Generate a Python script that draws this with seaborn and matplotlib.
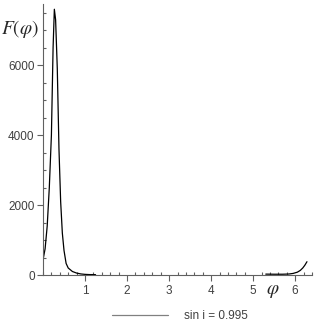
import matplotlib
matplotlib.use("Agg")
import matplotlib.pyplot as plt
import seaborn as sns
import pandas as pd
from matplotlib.ticker import MultipleLocator

# values (peak branch and end branch)
phi_left = [0.0, 0.05, 0.1, 0.15, 0.2, 0.24, 0.27, 0.3, 0.34, 0.38, 0.42,
            0.46, 0.5, 0.55, 0.6, 0.7, 0.8, 0.9, 1.0, 1.1, 1.25]
F_left = [430, 750, 1400, 2500, 4000, 6500, 7600, 7300, 5900, 3600, 2100,
          1200, 700, 330, 200, 100, 55, 30, 18, 12, 10]
phi_right = [5.3, 5.5, 5.7, 5.85, 5.95, 6.05, 6.12, 6.18, 6.23, 6.28]
F_right = [25, 22, 22, 28, 45, 80, 130, 200, 280, 380]
legend_label = "sin i = 0.995"

df = pd.DataFrame({
    "phi": phi_left + phi_right,
    "F": F_left + F_right,
    "seg": ["a"] * len(phi_left) + ["b"] * len(phi_right),
})

sns.set_style("white")
plt.rcParams["mathtext.fontset"] = "stix"
plt.rcParams["font.family"] = ["Liberation Sans", "DejaVu Sans"]

fig = plt.figure(figsize=(3.27, 3.27), dpi=100)
ax = fig.add_axes([43 / 327, 52 / 327, 269 / 327, 271 / 327])

sns.lineplot(data=df[df.seg == "a"], x="phi", y="F", color="black",
             linewidth=0.9, ax=ax, label=legend_label)
sns.lineplot(data=df[df.seg == "b"], x="phi", y="F", color="black",
             linewidth=0.9, ax=ax, legend=False)

ax.set_xlim(0, 6.4)
ax.set_ylim(0, 7750)
ax.set_xticks([1, 2, 3, 4, 5, 6])
ax.set_yticks([0, 2000, 4000, 6000])
ax.xaxis.set_minor_locator(MultipleLocator(0.2))
ax.yaxis.set_minor_locator(MultipleLocator(500))
ax.tick_params(which="major", direction="out", length=4, width=0.8,
               color="#606060", labelsize=8.5, labelcolor="#404040", pad=2)
ax.tick_params(which="minor", direction="in", length=2.5, width=0.8,
               color="#606060")
ax.tick_params(axis="x", which="major", pad=3)
ax.tick_params(axis="x", which="minor", bottom=True)
ax.tick_params(axis="y", which="minor", left=True)
ax.tick_params(bottom=True, left=True)
for s in ["top", "right"]:
    ax.spines[s].set_visible(False)
for s in ["left", "bottom"]:
    ax.spines[s].set_color("#606060")
    ax.spines[s].set_linewidth(0.8)
ax.set_xlabel("")
ax.set_ylabel("")

fig.text(1 / 327, 1 - 29 / 327, r"$F(\varphi)$", fontsize=14, va="center", ha="left")
fig.text(273 / 327, 1 - 292 / 327, r"$\varphi$", fontsize=14, va="center", ha="center")

ax.get_legend().remove()
leg = fig.legend(loc="center", bbox_to_anchor=(180 / 327, 11 / 327), frameon=False,
                 fontsize=8.5, handlelength=4.7, handletextpad=1.35)
leg.legend_handles[0].set_color("#808080")
for t in leg.get_texts():
    t.set_color("#404040")

fig.savefig("out.png", dpi=100)
